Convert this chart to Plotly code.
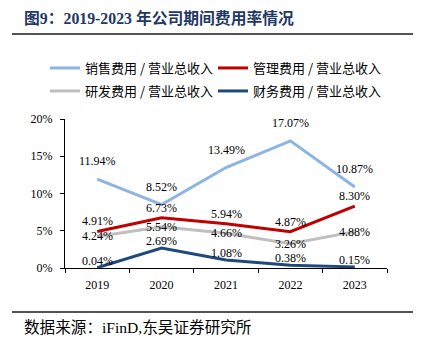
import plotly.graph_objects as go

# 2019-2023 expense ratios (% of total operating revenue)
years = [2019, 2020, 2021, 2022, 2023]
sales_ratio = [11.94, 8.52, 13.49, 17.07, 10.87]
admin_ratio = [4.91, 6.73, 5.94, 4.87, 8.30]
rnd_ratio = [4.24, 5.54, 4.66, 3.26, 4.88]
finance_ratio = [0.04, 2.69, 1.08, 0.38, 0.15]

series_names = ["销售费用 / 营业总收入", "管理费用 / 营业总收入",
                "研发费用 / 营业总收入", "财务费用 / 营业总收入"]
y_ticks = [0, 5, 10, 15, 20]

W, H = 423, 346
ML, MR, MT, MB = 65, 36, 119, 78
PW, PH = W - ML - MR, H - MT - MB

SERIF = "Liberation Serif, Noto Sans CJK SC, serif"
CJK = "Noto Sans CJK SC, Liberation Serif, sans-serif"


def px_x(X):
    return (X - ML) / PW


def px_y(Y):
    return (H - MB - Y) / PH


# name, values, colour, label lift (px), legend row
series = [
    (series_names[0], sales_ratio, "#8DB4E2", 18, "legend"),
    (series_names[1], admin_ratio, "#C00000", 10, "legend"),
    (series_names[2], rnd_ratio, "#BFBFBF", 0, "legend2"),
    (series_names[3], finance_ratio, "#1F497D", 7, "legend2"),
]

fig = go.Figure()
annotations = []
for name, vals, color, shift, leg in series:
    fig.add_trace(go.Scatter(
        x=years, y=vals, name=name, mode="lines", legend=leg,
        line=dict(color=color, width=3),
    ))
for name, vals, color, shift, leg in series:
    for xv, yv in zip(years, vals):
        annotations.append(dict(
            x=xv, y=yv, xref="x", yref="y", text=f"{yv:.2f}%",
            showarrow=False, yshift=shift,
            font=dict(family=SERIF, size=12, color="#000000"),
        ))

# heading, source line
annotations.append(dict(
    x=px_x(22), y=px_y(18), xref="paper", yref="paper",
    xanchor="left", yanchor="middle", showarrow=False,
    text="<b>图9：2019-2023 年公司期间费用率情况</b>",
    font=dict(family=SERIF, size=15.8, color="#1F3864"),
))
annotations.append(dict(
    x=px_x(22), y=px_y(327), xref="paper", yref="paper",
    xanchor="left", yanchor="middle", showarrow=False,
    text="数据来源：iFinD,东吴证券研究所",
    font=dict(family=SERIF, size=15.6, color="#000000"),
))

shapes = [
    dict(type="line", xref="paper", yref="paper",
         x0=px_x(12), x1=px_x(413), y0=px_y(34), y1=px_y(34),
         line=dict(color="#1a1a1a", width=1.5)),
    dict(type="line", xref="paper", yref="paper",
         x0=px_x(12), x1=px_x(413), y0=px_y(312), y1=px_y(312),
         line=dict(color="#1a1a1a", width=1.5)),
]

legend_style = dict(
    orientation="h", x=px_x(45), xanchor="left", yanchor="middle",
    entrywidth=123, entrywidthmode="pixels",
    font=dict(family=CJK, size=13, color="#000000"),
    bgcolor="rgba(0,0,0,0)",
)

fig.update_layout(
    width=W, height=H,
    margin=dict(l=ML, r=MR, t=MT, b=MB, pad=0),
    paper_bgcolor="white", plot_bgcolor="white",
    showlegend=True,
    legend=dict(legend_style, y=px_y(68)),
    legend2=dict(legend_style, y=px_y(91)),
    annotations=annotations,
    shapes=shapes,
    xaxis=dict(
        range=[years[0] - 0.5, years[-1] + 0.5],
        tickvals=years, ticktext=[str(y) for y in years],
        showgrid=False, zeroline=False,
        showline=True, linecolor="#000000", linewidth=1,
        ticks="",
        minor=dict(
            tickvals=[y - 0.5 for y in years] + [years[-1] + 0.5],
            ticks="outside", ticklen=4, tickcolor="#000000",
            showgrid=False,
        ),
        tickfont=dict(family=SERIF, size=12, color="#000000"),
        ticklabelstandoff=6,
        fixedrange=True,
    ),
    yaxis=dict(
        range=[0, 20], tickvals=y_ticks,
        ticktext=[f"{v}%" for v in y_ticks],
        showgrid=False, zeroline=False,
        showline=True, linecolor="#000000", linewidth=1,
        ticks="outside", ticklen=4, tickcolor="#000000",
        ticklabelstandoff=5,
        tickfont=dict(family=SERIF, size=12, color="#000000"),
        fixedrange=True,
    ),
)

fig.write_html("out.html")
